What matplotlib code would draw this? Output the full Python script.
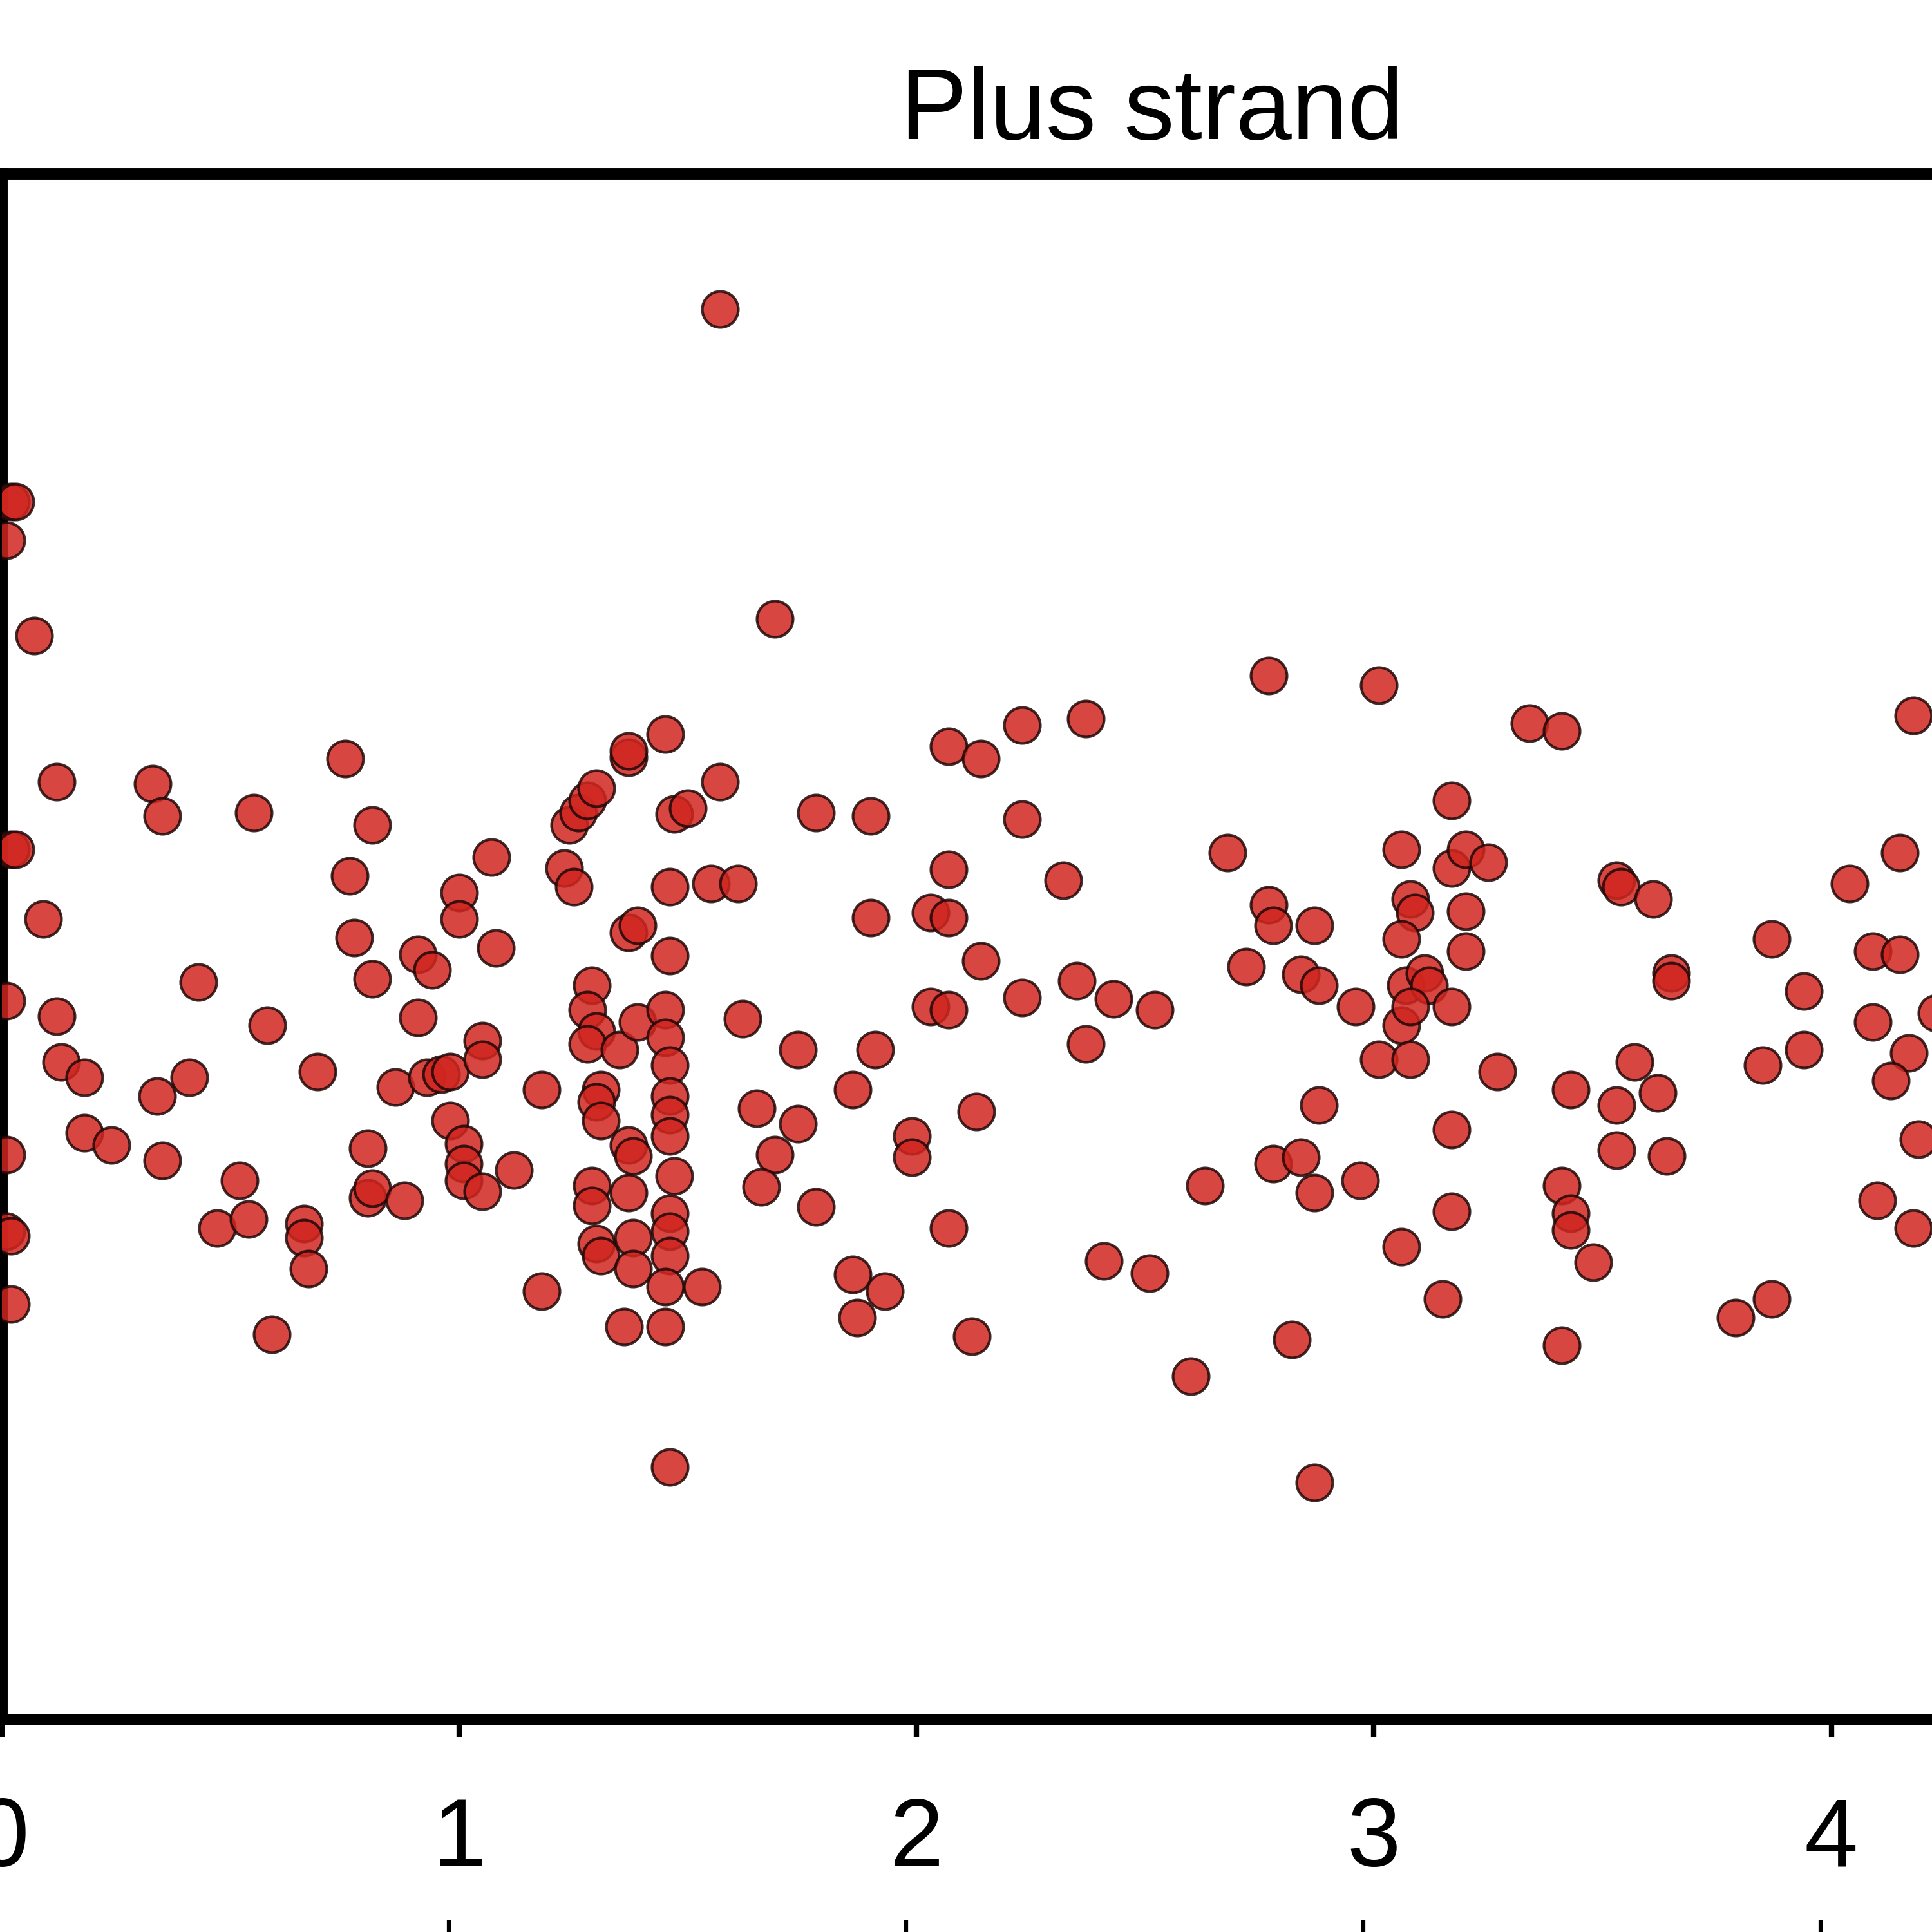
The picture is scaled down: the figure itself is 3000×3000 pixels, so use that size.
import numpy as np
import matplotlib
matplotlib.use('Agg')
import matplotlib.pyplot as plt

plt.rcParams['font.family'] = ['Liberation Sans', 'DejaVu Sans']

# points (x in axis units, y on a 0-10 scale)
pos_x = [0.02, 0.03, 0.01, 0.07, 0.12, 0.02, 0.03, 0.09, 0.01, 0.12, 0.13, 0.18, 0.01, 0.18, 0.24, 0.01, 0.02, 0.02,
         0.33, 0.35, 0.55, 0.43, 0.34, 0.41, 0.35, 0.58, 0.52, 0.47, 0.54, 0.66, 0.66, 0.67, 0.59,
         0.75, 0.81, 0.76, 0.77, 0.81, 0.69, 0.80, 0.80, 0.81, 0.88, 0.91, 0.94, 0.91, 0.86, 0.93, 0.96, 0.98, 0.98,
         1.01, 1.01, 1.01, 1.05, 1.00, 1.00, 1.07, 1.08, 1.05, 1.05, 1.12, 1.18, 1.18,
         1.24, 1.26, 1.28, 1.30, 1.23, 1.25, 1.37, 1.37, 1.45, 1.47, 1.50, 1.57, 1.46, 1.55, 1.61,
         1.37, 1.39, 1.46, 1.29, 1.28, 1.30, 1.28, 1.31, 1.30, 1.31, 1.35, 1.39, 1.45, 1.45, 1.46, 1.46, 1.46, 1.46,
         1.37, 1.38, 1.37, 1.47, 1.29, 1.29, 1.30, 1.31, 1.38, 1.38, 1.46, 1.46, 1.46, 1.45, 1.53, 1.36, 1.45, 1.46,
         1.62, 1.74, 1.65, 1.74, 1.69, 1.66, 1.78, 1.78, 1.90, 1.90, 1.91, 1.86, 1.99, 1.99, 1.86, 1.87, 1.93,
         1.69, 1.57,
         2.07, 2.14, 2.23, 2.37, 2.23, 2.07, 2.03, 2.07, 2.14, 2.03, 2.07, 2.23, 2.32, 2.35, 2.43, 2.37, 2.52,
         2.13, 2.07, 2.12, 2.41, 2.51, 2.60, 2.63, 2.68, 2.77, 2.77, 2.78, 2.87, 2.72, 2.84, 2.88, 2.96,
         2.88, 2.78, 2.84, 2.87, 2.97, 2.82, 2.87,
         3.01, 3.06, 3.08, 3.09, 3.06, 3.07, 3.11, 3.12, 3.06, 3.08, 3.01, 3.08, 3.17, 3.17, 3.20, 3.25, 3.20, 3.20,
         3.17, 3.27, 3.17, 3.17, 3.06, 3.15,
         3.34, 3.41, 3.53, 3.54, 3.61, 3.65, 3.65, 3.43, 3.53, 3.57, 3.62, 3.53, 3.64, 3.41, 3.43, 3.43, 3.48, 3.41,
         3.87, 3.94, 3.94, 3.85, 3.79, 3.87,
         4.04, 4.15, 4.09, 4.15, 4.09, 4.17, 4.13, 4.19, 4.23, 4.10, 4.18, 4.18]
pos_y = [7.87, 7.87, 7.62, 7.00, 6.05, 5.61, 5.61, 5.16, 4.63, 4.53, 4.23, 4.13, 3.63, 3.77, 3.69, 3.13, 3.10, 2.66,
         6.04, 5.83, 5.85, 4.75, 4.01, 4.13, 3.59, 4.47, 3.46, 3.15, 3.21, 3.18, 3.09, 2.89, 2.46,
         6.20, 5.77, 5.44, 5.04, 4.77, 4.17, 3.67, 3.35, 3.41, 3.33, 4.93, 4.83, 4.52, 4.07, 4.13, 4.15, 4.17, 3.85,
         3.70, 3.57, 3.46, 3.39, 5.33, 5.16, 5.56, 4.97, 4.37, 4.25, 3.53, 4.05, 2.74,
         5.77, 5.85, 5.93, 6.01, 5.49, 5.37, 6.21, 6.25, 6.36, 5.84, 5.88, 6.05, 5.37, 5.39, 5.39,
         5.07, 5.12, 4.92, 4.73, 4.57, 4.43, 4.35, 4.05, 3.97, 3.85, 4.31, 4.49, 4.57, 4.39, 4.21, 4.01, 3.89, 3.75,
         3.69, 3.62, 3.38, 3.49, 3.43, 3.30, 3.05, 2.97, 3.09, 2.89, 3.25, 3.13, 2.97, 2.77, 2.77, 2.51, 2.51, 1.60,
         4.51, 4.31, 3.93, 3.83, 3.63, 3.42, 3.29, 5.85, 5.83, 5.17, 4.31, 4.05, 3.75, 3.61, 2.85, 2.57, 2.74,
         7.11, 9.12,
         6.28, 6.20, 6.42, 6.46, 5.81, 5.48, 5.20, 5.17, 4.89, 4.59, 4.57, 4.65, 5.41, 4.76, 4.64, 4.35, 4.57,
         3.91, 3.15, 2.45, 2.94, 2.86, 2.19, 3.43, 5.59, 6.74, 5.25, 5.12, 5.12, 4.85, 4.80, 4.73, 4.59,
         3.95, 3.57, 3.61, 3.38, 3.46, 2.43, 1.50,
         6.68, 5.61, 5.29, 5.20, 5.03, 4.73, 4.81, 4.73, 4.47, 4.59, 4.25, 4.25, 5.93, 5.49, 5.61, 5.53, 5.21, 4.95,
         4.59, 4.17, 3.79, 3.26, 3.03, 2.69,
         6.43, 6.38, 5.41, 5.37, 5.29, 4.81, 4.76, 4.05, 3.95, 4.23, 4.03, 3.66, 3.62, 3.43, 3.25, 3.14, 2.93, 2.39,
         5.03, 4.69, 4.31, 4.21, 2.57, 2.69,
         5.39, 5.59, 4.95, 4.93, 4.49, 4.29, 4.11, 3.73, 4.55, 3.33, 3.15, 6.48]
x_ticks = [0, 1, 2, 3, 4]

fig = plt.figure(figsize=(10, 10), dpi=300)
ax = fig.add_axes([0.001, 0.11, 1.1907, 0.80])

ax.scatter(pos_x, pos_y, s=180, facecolor='#d0261f', edgecolor='#200808', linewidth=1.0, alpha=0.85, zorder=3)

ax.set_xlim(0, 5.03)
ax.set_ylim(-0.04, 10.0)
ax.set_xticks(x_ticks)
ax.set_xticklabels([str(t) for t in x_ticks])
ax.set_yticks([])
ax.tick_params(axis='x', direction='out', length=6.5, width=2, pad=22, labelsize=36)
for sp in ax.spines.values():
    sp.set_linewidth(4.3)
ax.set_title('Plus strand', fontsize=37.5, pad=13)

# tick marks of the next panel, just visible at the bottom edge
ax2 = fig.add_axes([0.001, -0.1, 1.1907, 0.1])
ax2.set_xlim(0.023, 5.053)
ax2.set_xticks([1, 2, 3, 4])
ax2.set_yticks([])
ax2.tick_params(axis='x', top=True, bottom=False, labeltop=False, labelbottom=False,
                direction='out', length=4.5, width=1.5)
for sp in ax2.spines.values():
    sp.set_visible(False)
ax2.patch.set_visible(False)

fig.savefig('out.png', dpi=300)
